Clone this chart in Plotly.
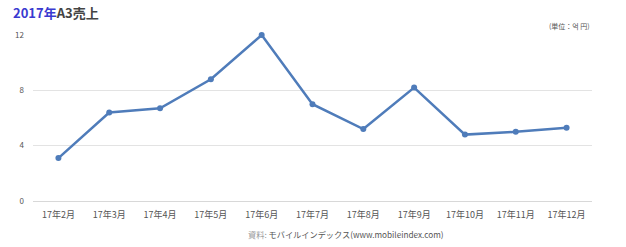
import plotly.graph_objects as go

months = ["17年2月", "17年3月", "17年4月", "17年5月", "17年6月", "17年7月",
          "17年8月", "17年9月", "17年10月", "17年11月", "17年12月"]
sales = [3.1, 6.4, 6.7, 8.8, 12.0, 7.0, 5.2, 8.2, 4.8, 5.0, 5.3]
y_ticks = [0, 4, 8, 12]

font_family = "Noto Sans CJK JP, Noto Sans, sans-serif"

fig = go.Figure()
fig.add_trace(go.Scatter(
    x=months, y=sales, mode="lines+markers",
    line=dict(color="#4f7cba", width=2.5),
    marker=dict(color="#4f7cba", size=6),
    cliponaxis=False, hoverinfo="skip", showlegend=False,
))

fig.update_layout(
    width=626, height=247,
    margin=dict(l=33, r=34, t=35, b=46),
    paper_bgcolor="white", plot_bgcolor="white",
    font=dict(family=font_family, size=9, color="#555"),
    xaxis=dict(
        type="category", range=[-0.5, 10.5], showgrid=False, zeroline=False,
        showline=False, ticks="", tickfont=dict(size=9, color="#555"),
        ticklabelstandoff=7, fixedrange=True,
    ),
    yaxis=dict(
        range=[0, 12], tickvals=y_ticks, showgrid=True, gridcolor="#e3e3e3",
        gridwidth=1, zeroline=True, zerolinecolor="#d8d8d8", zerolinewidth=1,
        showline=False, ticks="", ticklabelstandoff=8,
        tickfont=dict(size=8, color="#555"), fixedrange=True,
    ),
    annotations=[
        dict(
            text="<b><span style='color:#3a3ad0'>2017年</span>"
                 "<span style='color:#444'>A3売上</span></b>",
            xref="paper", yref="paper", x=-33/559, y=1 + 23/166,
            xanchor="left", yanchor="middle", showarrow=False,
            font=dict(size=13, family=font_family),
            xshift=11,
        ),
        dict(
            text="(単位：억 円)",
            xref="paper", yref="paper", x=1, y=1, yshift=2,
            xanchor="right", yanchor="bottom", showarrow=False,
            font=dict(size=7, color="#555", family="Noto Sans CJK KR, sans-serif"),
        ),
        dict(
            text="<span style='color:#999'>資料:</span> "
                 "<span style='color:#555'>モバイルインデックス(www.mobileindex.com)</span>",
            xref="paper", yref="paper", x=(246 - 33) / 559, y=0, yshift=-33,
            xanchor="left", yanchor="middle", showarrow=False,
            font=dict(size=8.2, family=font_family),
        ),
    ],
)

fig.write_html("out.html")
